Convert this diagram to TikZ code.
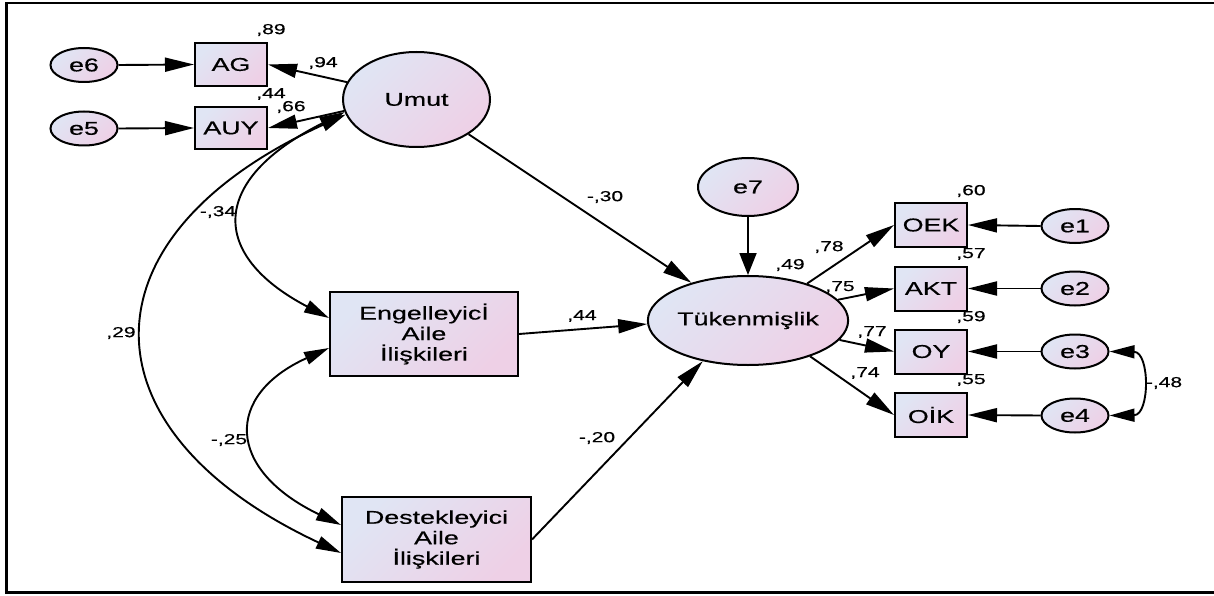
\documentclass[tikz,border=0pt]{standalone}
\usepackage{fontspec}
\setmainfont{Liberation Sans}[FakeStretch=1.45,FakeBold=0.5]
\usepackage{tikz}
\usetikzlibrary{arrows.meta,shapes.geometric,calc}
\definecolor{fillA}{RGB}{224,229,244}
\definecolor{fillB}{RGB}{238,208,230}
\tikzset{
  grad/.style={top color=fillA,bottom color=fillB,shading angle=45},
  latent/.style={ellipse,draw,line width=2pt,grad,inner sep=0pt,
    font=\fontsize{18.5}{20}\selectfont},
  errv/.style={latent,minimum width=67pt,minimum height=34pt},
  obs/.style={rectangle,draw,line width=2pt,grad,inner sep=0pt,align=center,
    font=\fontsize{18.5}{20.5}\selectfont},
  coef/.style={inner sep=0pt,font=\fontsize{14.5}{16}\selectfont},
  regr/.style={-{Triangle[length=29pt,width=14pt]},line width=1.9pt},
  covar/.style={{Triangle[length=25pt,width=13pt]}-{Triangle[length=25pt,width=13pt]},
    line width=1.9pt}
}
\begin{document}
\begin{tikzpicture}[x=1pt,y=-1pt]
  \useasboundingbox (0,0) rectangle (1214,596);
  \draw[line width=2.4pt] (1214,3) -- (6.5,3) -- (6.5,592.5) -- (1214,592.5);
  % hope indicators
  \node[errv] (e6) at (84,65) {e6};
  \node[errv] (e5) at (84,128.5) {e5};
  \node[obs,minimum width=72pt,minimum height=43pt] (ag) at (231,64.5) {AG};
  \node[obs,minimum width=72pt,minimum height=42pt] (auy) at (231,128) {AUY};
  \node[latent,minimum width=147pt,minimum height=95pt] (umut) at (416.5,99.5) {Umut};
  % family relations
  \node[obs,minimum width=188pt,minimum height=84pt] (eng) at (424,334)
    {Engelleyicİ\\Aile\\İlişkileri};
  \node[obs,minimum width=189pt,minimum height=85pt] (dest) at (436.5,539.5)
    {Destekleyici\\Aile\\İlişkileri};
  % burnout
  \node[latent,minimum width=141pt,minimum height=89pt] (tuk) at (748,320.5) {Tükenmişlik};
  \node[latent,minimum width=100pt,minimum height=58pt] (e7) at (748,187) {e7};
  \node[obs,minimum width=72pt,minimum height=44pt] (oek) at (931,225) {OEK};
  \node[obs,minimum width=72pt,minimum height=44pt] (akt) at (931,288.5) {AKT};
  \node[obs,minimum width=72pt,minimum height=44pt] (oy) at (931,351.5) {OY};
  \node[obs,minimum width=72pt,minimum height=44pt] (oik) at (931,415) {OİK};
  \node[errv] (e1) at (1075,226) {e1};
  \node[errv] (e2) at (1075,288.5) {e2};
  \node[errv] (e3) at (1075,351.5) {e3};
  \node[errv] (e4) at (1075,415.5) {e4};

  \draw[regr] (e6.east) -- (ag.west);
  \draw[regr] (e5.east) -- (auy.west);
  \draw[regr] (umut.166) -- (ag.east);
  \draw[regr] (umut.189) -- (auy.east);
  \draw[regr] (umut) -- (tuk);
  \draw[regr] (eng.east) -- (tuk.182);
  \draw[regr] (dest.east) -- (tuk.222);
  \draw[regr,-{Triangle[length=22pt,width=17pt]}] (e7.south) -- (tuk.north);
  \draw[regr] (tuk.32) -- (oek.west);
  \draw[regr] (tuk.13) -- (akt.west);
  \draw[regr] (tuk.348) -- (oy.west);
  \draw[regr] (tuk.330) -- (oik.west);
  \foreach \e/\b in {e1/oek,e2/akt,e3/oy,e4/oik}
    \draw[regr] (\e.west) -- (\b.east);
  % correlations
  \draw[covar] (umut.190) .. controls (209,180) and (209,255) .. ($(eng.west)+(0,-16)$);
  \draw[covar] (umut.192) .. controls (78,236) and (78,430) .. ($(dest.west)+(0,13.5)$);
  \draw[covar] ($(eng.west)+(0,14)$) .. controls (225,395) and (225,469) .. ($(dest.west)+(0,-14.5)$);
  \draw[covar] (e3.east) .. controls (1150,352) and (1150,415) .. (e4.east);

  % estimates
  \node[coef] (r89) at (271,30) {,89};
  \node[coef] (r94) at (323,63) {,94};
  \node[coef] (r44a) at (271,94) {,44};
  \node[coef] (r66) at (291,107) {,66};
  \node[coef] (b30) at (605,197) {-,30};
  \node[coef] (b44) at (582,316) {,44};
  \node[coef] (b20) at (597,438) {-,20};
  \node[coef] (c34) at (218,212) {-,34};
  \node[coef] (c29) at (121,333) {,29};
  \node[coef] (c25) at (229,440) {-,25};
  \node[coef] (c48) at (1164,383) {-,48};
  \node[coef] (r49) at (790,265) {,49};
  \node[coef] (l78) at (829,247) {,78};
  \node[coef] (l75) at (840,287) {,75};
  \node[coef] (l77) at (872,332) {,77};
  \node[coef] (l74) at (865,373) {,74};
  \node[coef] (r60) at (971,191) {,60};
  \node[coef] (r57) at (971,254) {,57};
  \node[coef] (r59) at (971,317) {,59};
  \node[coef] (r55) at (971,380) {,55};
\end{tikzpicture}
\end{document}
